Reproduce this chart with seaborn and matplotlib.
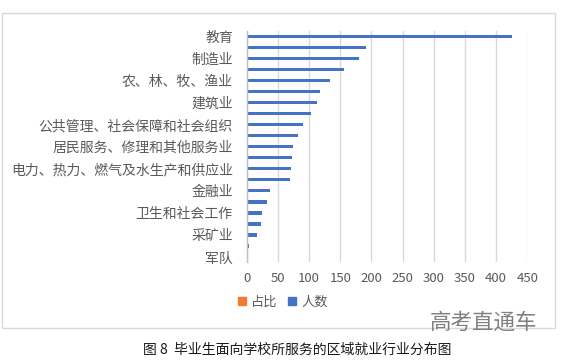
import matplotlib.pyplot as plt
import matplotlib.patches as mpatches
import pandas as pd
import seaborn as sns

# Industries, top to bottom (Excel only shows every other label)
industries = [
    '教育', '批发和零售业', '制造业', '信息传输、软件和信息技术服务业',
    '农、林、牧、渔业', '交通运输、仓储和邮政业', '建筑业', '住宿和餐饮业',
    '公共管理、社会保障和社会组织', '房地产业', '居民服务、修理和其他服务业',
    '租赁和商务服务业', '电力、热力、燃气及水生产和供应业', '科学研究和技术服务业',
    '金融业', '水利、环境和公共设施管理业', '卫生和社会工作', '文化、体育和娱乐业',
    '采矿业', '国际组织', '军队',
]
people = [425, 192, 180, 156, 133, 117, 113, 103, 90, 83, 74,
          72, 71, 69, 37, 32, 25, 23, 16, 4, 0]
xticks = [0, 50, 100, 150, 200, 250, 300, 350, 400, 450]

blue = '#4472C4'
orange = '#ED7D31'
text_grey = '#595959'

df = pd.DataFrame({'行业': industries, '人数': people})

sns.set_style('white')
plt.rcParams['font.family'] = ['Noto Sans CJK SC', 'DejaVu Sans']

fig = plt.figure(figsize=(5.66, 3.61), dpi=100)
ax = fig.add_axes([0.4359, 0.2729, 0.4958, 0.6413])

sns.barplot(data=df, y='行业', x='人数', orient='h', color=blue,
            width=0.3, saturation=1, linewidth=0, ax=ax)

ax.set_xlim(0, 450)
ax.set_ylim(len(industries) - 0.5, -0.5)
ax.set_xticks(xticks)
ax.set_xticklabels([str(t) for t in xticks], fontsize=9.5, color=text_grey)
ax.set_yticks(range(0, len(industries), 2))
ax.set_yticklabels(industries[::2], fontsize=10, color=text_grey)
ax.tick_params(axis='both', length=0, pad=7)
ax.tick_params(axis='y', pad=10)
ax.set_xlabel('')
ax.set_ylabel('')
ax.grid(axis='x', color='#D9D9D9', linewidth=1)
ax.set_axisbelow(True)
for side in ['top', 'right', 'bottom']:
    ax.spines[side].set_visible(False)
ax.spines['left'].set_color('#BFBFBF')
ax.spines['left'].set_linewidth(1)

handles = [mpatches.Patch(color=orange, label='占比'),
           mpatches.Patch(color=blue, label='人数')]
fig.legend(handles=handles, loc='center', bbox_to_anchor=(0.50, 0.163),
           ncol=2, frameon=False, fontsize=9.5, handlelength=0.6,
           handleheight=0.6, handletextpad=0.4, columnspacing=0.8,
           labelcolor=text_grey)

# chart frame
fig.patches.append(mpatches.Rectangle((0.0035, 0.0914), 0.9771, 0.8726,
                                      transform=fig.transFigure, fill=False,
                                      edgecolor='#D9D9D9', linewidth=1))

fig.text(0.855, 0.107, '高考直通车', fontsize=15.5, color='#7F7F7F',
         ha='center', va='center')
fig.text(0.526, 0.03, '图 8  毕业生面向学校所服务的区域就业行业分布图',
         fontsize=10, color='#1a1a1a', ha='center', va='center')

fig.savefig('out.png', dpi=100)
